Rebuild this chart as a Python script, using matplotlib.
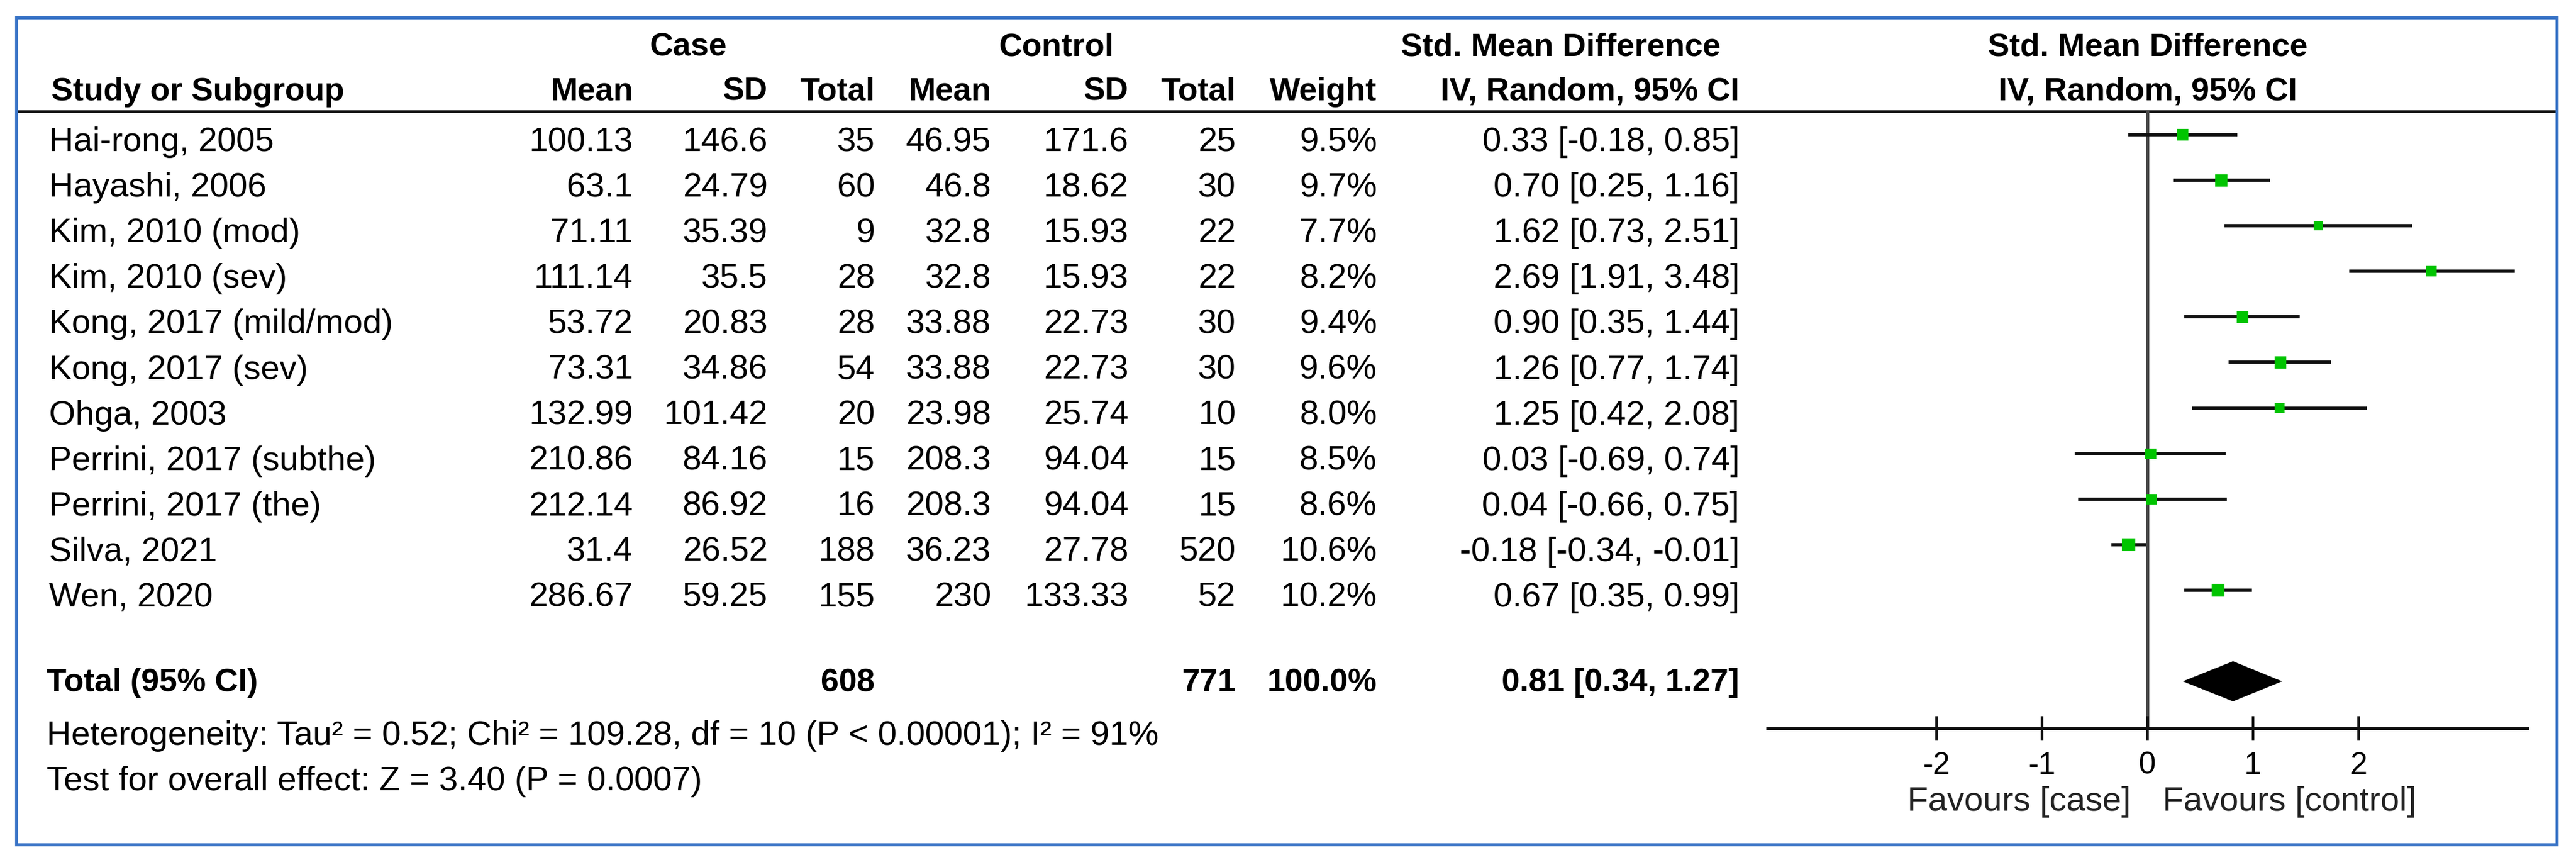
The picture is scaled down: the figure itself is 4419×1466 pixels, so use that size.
import matplotlib
matplotlib.use("Agg")
import matplotlib.pyplot as plt
from matplotlib.patches import Rectangle, Polygon
from matplotlib.lines import Line2D
import matplotlib.transforms as mtransforms

plt.rcParams['font.family'] = ['Liberation Sans', 'DejaVu Sans']
plt.rcParams['axes.unicode_minus'] = False

# ---------------- data ----------------
studies = ["Hai-rong, 2005", "Hayashi, 2006", "Kim, 2010 (mod)", "Kim, 2010 (sev)",
           "Kong, 2017 (mild/mod)", "Kong, 2017 (sev)", "Ohga, 2003",
           "Perrini, 2017 (subthe)", "Perrini, 2017 (the)", "Silva, 2021", "Wen, 2020"]
case_mean = [100.13, 63.1, 71.11, 111.14, 53.72, 73.31, 132.99, 210.86, 212.14, 31.4, 286.67]
case_sd = [146.6, 24.79, 35.39, 35.5, 20.83, 34.86, 101.42, 84.16, 86.92, 26.52, 59.25]
case_n = [35, 60, 9, 28, 28, 54, 20, 15, 16, 188, 155]
ctrl_mean = [46.95, 46.8, 32.8, 32.8, 33.88, 33.88, 23.98, 208.3, 208.3, 36.23, 230]
ctrl_sd = [171.6, 18.62, 15.93, 15.93, 22.73, 22.73, 25.74, 94.04, 94.04, 27.78, 133.33]
ctrl_n = [25, 30, 22, 22, 30, 30, 10, 15, 15, 520, 52]
weight = [9.5, 9.7, 7.7, 8.2, 9.4, 9.6, 8.0, 8.5, 8.6, 10.6, 10.2]
smd = [0.33, 0.70, 1.62, 2.69, 0.90, 1.26, 1.25, 0.03, 0.04, -0.18, 0.67]
ci_lo = [-0.18, 0.25, 0.73, 1.91, 0.35, 0.77, 0.42, -0.69, -0.66, -0.34, 0.35]
ci_hi = [0.85, 1.16, 2.51, 3.48, 1.44, 1.74, 2.08, 0.74, 0.75, -0.01, 0.99]

total_case_n = 608
total_ctrl_n = 771
total_weight = 100.0
total_smd = 0.81
total_lo = 0.34
total_hi = 1.27

heterogeneity = "Heterogeneity: Tau\u00b2 = 0.52; Chi\u00b2 = 109.28, df = 10 (P < 0.00001); I\u00b2 = 91%"
overall = "Test for overall effect: Z = 3.40 (P = 0.0007)"
xticks = [-2, -1, 0, 1, 2]
xtick_labels = ["-2", "-1", "0", "1", "2"]
favours_left = "Favours [case]"
favours_right = "Favours [control]"

# ---------------- layout (pixels) ----------------
W, H = 4419, 1466
ROW0, ROWH = 231.0, 78.1          # pixel y of first study row, row pitch
TOTAL_ROW = 12                    # row index of total line
HDR_LINE = 191
AXIS_Y = 1249
ZERO_X, UNIT = 3684.0, 181.0
XMIN, XMAX = -3.6, 3.6

def ypx(r):
    return ROW0 + r * ROWH

REG = 42
BOLD = 40

fig = plt.figure(figsize=(W / 100, H / 100), dpi=100)
fig.patch.set_facecolor("white")

ax_t = fig.add_axes([0, 0, 1, 1])
ax_t.set_xlim(0, W)
ax_t.set_ylim(H, 0)
ax_t.axis("off")

# border and header rule
ax_t.add_patch(Rectangle((28, 30), 4358, 1418, fill=False, edgecolor="#3873c6", lw=3.8, zorder=5))
ax_t.add_line(Line2D([30, 4384], [HDR_LINE, HDR_LINE], color="#111111", lw=3.4, zorder=4))

# column right edges
col_x = dict(cm=1086, csd=1317, cn=1501, km=1700, ksd=1936, kn=2120, w=2362, ci=2984)
NAME_X = 84

def txt(x, y, s, ha="right", bold=False, size=None, color="black"):
    ax_t.text(x, y, s, ha=ha, va="baseline",
              fontsize=size if size else (BOLD if bold else REG),
              fontweight="bold" if bold else "normal", color=color)

# headers
H1, H2 = 96, 172
txt(1181, H1, "Case", ha="center", bold=True)
txt(1812, H1, "Control", ha="center", bold=True)
txt(2677, H1, "Std. Mean Difference", ha="center", bold=True)
txt(NAME_X + 4, H2, "Study or Subgroup", ha="left", bold=True)
for key, lab in [("cm", "Mean"), ("csd", "SD"), ("cn", "Total"), ("km", "Mean"),
                 ("ksd", "SD"), ("kn", "Total"), ("w", "Weight"), ("ci", "IV, Random, 95% CI")]:
    txt(col_x[key], H2, lab, bold=True)

fmt = lambda v: f"{v:g}"
for i, name in enumerate(studies):
    yb = ypx(i) + 28
    txt(NAME_X, yb, name, ha="left")
    txt(col_x["cm"], yb, fmt(case_mean[i]))
    txt(col_x["csd"], yb, fmt(case_sd[i]))
    txt(col_x["cn"], yb, str(case_n[i]))
    txt(col_x["km"], yb, fmt(ctrl_mean[i]))
    txt(col_x["ksd"], yb, fmt(ctrl_sd[i]))
    txt(col_x["kn"], yb, str(ctrl_n[i]))
    txt(col_x["w"], yb, f"{weight[i]:.1f}%")
    txt(col_x["ci"], yb, f"{smd[i]:.2f} [{ci_lo[i]:.2f}, {ci_hi[i]:.2f}]")

yb = ypx(TOTAL_ROW) + 17
txt(NAME_X - 4, yb, "Total (95% CI)", ha="left", bold=True)
txt(col_x["cn"], yb, str(total_case_n), bold=True)
txt(col_x["kn"], yb, str(total_ctrl_n), bold=True)
txt(col_x["w"], yb, f"{total_weight:.1f}%", bold=True)
txt(col_x["ci"], yb, f"{total_smd:.2f} [{total_lo:.2f}, {total_hi:.2f}]", bold=True)

txt(NAME_X - 4, 1277, heterogeneity, ha="left")
txt(NAME_X - 4, 1355, overall, ha="left")

# ---------------- forest panel ----------------
left_px = ZERO_X + XMIN * UNIT
right_px = ZERO_X + XMAX * UNIT
ax_f = fig.add_axes([left_px / W, (H - AXIS_Y) / H, (right_px - left_px) / W, (AXIS_Y - HDR_LINE) / H])
ax_f.set_xlim(XMIN, XMAX)
r_top = (HDR_LINE - ROW0) / ROWH
r_bot = (AXIS_Y - ROW0) / ROWH
ax_f.set_ylim(r_bot, r_top)
ax_f.patch.set_alpha(0)
for s in ("left", "right", "top"):
    ax_f.spines[s].set_visible(False)
ax_f.spines["bottom"].set_linewidth(3.6)
ax_f.spines["bottom"].set_color("#111111")
ax_f.set_yticks([])
ax_f.set_xticks(xticks)
ax_f.set_xticklabels(xtick_labels)
ax_f.tick_params(axis="x", direction="inout", length=30, width=3.2, pad=13,
                 labelsize=38, color="#111111")

rows = list(range(len(studies)))
ax_f.axvline(0, color="#484848", lw=3.6, zorder=1)
ax_f.hlines(rows, ci_lo, ci_hi, color="#101010", lw=4.0, zorder=2)
sizes = [(2.15 * w * 0.72) ** 2 for w in weight]
ax_f.scatter(smd, rows, marker="s", s=sizes, color="#00c400", linewidths=0, zorder=3)

hh = 34 / ROWH
ax_f.add_patch(Polygon([(total_lo, TOTAL_ROW), (total_smd, TOTAL_ROW - hh),
                        (total_hi, TOTAL_ROW), (total_smd, TOTAL_ROW + hh)],
                       closed=True, facecolor="black", edgecolor="black", lw=0.5, zorder=3))

# forest headers centred over the zero line
blend = mtransforms.blended_transform_factory(ax_f.transData, ax_t.transData)
ax_t.text(0, H1, "Std. Mean Difference", transform=blend, ha="center", va="baseline",
          fontsize=BOLD, fontweight="bold")
ax_t.text(0, H2, "IV, Random, 95% CI", transform=blend, ha="center", va="baseline",
          fontsize=BOLD, fontweight="bold")

txt(3655, 1390, favours_left, ha="right", color="#222222")
txt(3710, 1390, favours_right, ha="left", color="#222222")

fig.savefig("out.png", dpi=100, facecolor="white")
